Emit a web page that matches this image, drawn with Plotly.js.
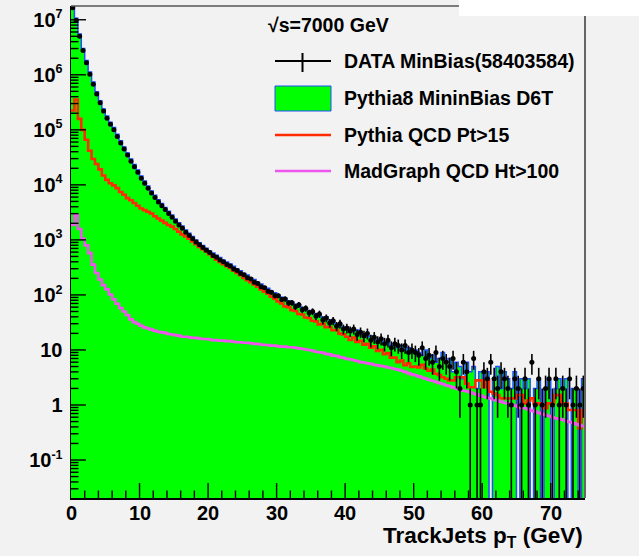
<!DOCTYPE html>
<html><head><meta charset="utf-8">
<script src="https://cdn.plot.ly/plotly-3.0.1.min.js"></script>
<style>
html,body{margin:0;padding:0;background:#f2f2f2;overflow:hidden;}
#chart{width:639px;height:556px;}
#wbox{position:absolute;left:459px;top:0;width:180px;height:16px;background:#ffffff;}
</style>
</head><body>
<div id="chart"></div><div id="wbox"></div>
<script>
// 150 bins of 0.5 GeV from 0 to 75 GeV
const binWidth = 0.5;
const nBins = 150;

const dataMinBias = [
 16600000, 9770000, 5010000, 2750000, 1660000, 1020000, 676000, 447000, 309000, 219000,
 162000, 126000, 100000, 75900, 57500, 44700, 34700, 26900, 21400, 17000,
 13200, 10700, 8710, 7080, 5890, 4900, 4170, 3550, 3020, 2570,
 2190, 1860, 1620, 1380, 1200, 1050, 912, 813, 724, 646,
 592, 521, 483, 432, 401, 358, 336, 297, 279, 246,
 233, 205, 194, 170, 161, 141, 135, 117, 112, 97,
 97, 83, 84, 71, 72, 61, 66, 54, 57, 47,
 50, 41, 45, 35, 38, 31, 34, 27, 30, 24,
 25, 22, 24, 19, 21, 18, 20, 15, 17, 14,
 16, 13, 15, 11, 13, 12, 10, 12, 9, 10,
 9, 8, 11, 7, 8, 6, 9, 5, 7, 6,
 5, 7, 4, 2, 6, 4, 1, 7, 1, 1,
 4, 3, 6, 3, 2, 4, 3, 2, 1, 3,
 2, 1, 3, 1, 6, 1, 3, 1, 2, 3,
 1, 3, 1, 2, 1, 3, 1, 2, 1, 2
];

const pythia8MinBiasD6T = [
 20000000, 10700000, 5500000, 3020000, 1820000, 1120000, 741000, 490000, 339000, 240000,
 178000, 138000, 110000, 83200, 63100, 49000, 38000, 29500, 23400, 18600,
 14500, 11700, 9550, 7760, 6460, 5370, 4570, 3890, 3310, 2820,
 2400, 2040, 1780, 1510, 1320, 1150, 1000, 891, 794, 708,
 631, 575, 525, 479, 427, 398, 363, 331, 295, 275,
 245, 229, 204, 191, 170, 158, 141, 132, 117, 110,
 100, 91, 87, 78, 74, 68, 66, 59, 57, 51,
 50, 45, 44, 39, 40, 35, 34, 30, 30, 26,
 26, 24, 22, 23, 20, 19.5, 17.4, 18, 16, 15,
 16, 13, 14, 12, 13, 11, 12, 10, 11, 9,
 10, 9, 8, 10, 7, 8, 6, 7, 9, 6,
 7, 4, 6, 5, 3, 6, 4, 5, 2, 4,
 3, 4, 0, 3, 5, 2, 4, 3, 2, 4,
 0, 3, 2, 3, 0, 2, 3, 0, 2, 3,
 0, 2, 3, 2, 3, 0, 2, 2, 0, 3
];

const pythiaQCDPt15 = [
 224000, 355000, 158000, 100000, 66000, 41700, 29500, 24000, 19100, 14800,
 12300, 10700, 9770, 8710, 7410, 6610, 5750, 5250, 4680, 4170,
 3720, 3470, 3240, 3020, 2690, 2450, 2240, 2040, 1860, 1740,
 1580, 1410, 1260, 1150, 1050, 933, 832, 741, 676, 617,
 550, 490, 437, 398, 363, 331, 309, 275, 251, 229,
 204, 186, 170, 155, 141, 126, 115, 105, 93, 85,
 76, 70, 62, 60, 53, 51, 45, 44, 39, 38,
 34, 33, 29, 30, 26, 26, 22.8, 23, 19.8, 19.2,
 17.4, 15.2, 16.8, 14.0, 14.6, 12.5, 12.9, 11.0, 11.6, 9.6,
 10.1, 8.4, 8.8, 7.2, 7.3, 6.0, 6.4, 5.3, 5.7, 4.9,
 5.0, 4.8, 5.4, 4.6, 4.2, 4.4, 3.7, 3.5, 3.2, 3.0,
 2.8, 2.8, 3.2, 3.2, 3.2, 2.45, 2.1, 2.1, 2.8, 2.8,
 2.1, 2.8, 1.74, 1.62, 1.51, 1.32, 1.32, 1.32, 1.32, 1.32,
 1.51, 1.51, 1.07, 1.2, 1.32, 1.07, 1.07, 1.0, 0.87, 1.07,
 1.07, 1.51, 1.51, 1.07, 1.07, 0.81, 0.81, 0.81, 0.38, 0.81
];

const madgraphQCDHt100 = [
 1860, 2820, 1580, 1050, 794, 575, 355, 251, 191, 151,
 126, 102, 83, 69, 58, 50, 43, 36, 32, 30,
 27.5, 25.7, 24.5, 23.4, 22.4, 21.4, 20.9, 20.4, 19.5, 19.1,
 18.6, 18.2, 17.4, 17.4, 17.0, 16.6, 16.6, 16.2, 15.8, 15.8,
 15.5, 15.1, 15.1, 14.8, 14.8, 14.5, 14.5, 14.1, 13.8, 13.8,
 13.5, 13.5, 13.2, 12.9, 12.9, 12.6, 12.3, 12.3, 12.0, 12.0,
 11.7, 11.5, 11.5, 11.2, 11.2, 11.0, 10.7, 10.5, 10.2, 10.0,
 9.8, 9.3, 9.1, 8.9, 8.5, 8.3, 7.9, 7.8, 7.4, 7.2,
 6.9, 6.8, 6.5, 6.3, 6.0, 5.9, 5.75, 5.6, 5.4, 5.25,
 5.1, 5.0, 4.8, 4.7, 4.5, 4.4, 4.2, 4.0, 3.8, 3.6,
 3.47, 3.31, 3.16, 3.02, 2.88, 2.75, 2.63, 2.51, 2.40, 2.29,
 2.19, 2.09, 2.0, 1.91, 1.82, 1.78, 1.70, 1.62, 1.55, 1.48,
 1.41, 1.35, 1.32, 1.26, 1.20, 1.15, 1.10, 1.07, 1.02, 0.98,
 0.93, 0.89, 0.87, 0.83, 0.79, 0.76, 0.72, 0.69, 0.66, 0.63,
 0.60, 0.575, 0.56, 0.54, 0.51, 0.49, 0.47, 0.45, 0.43, 0.41
];

const xTickVals = [0, 10, 20, 30, 40, 50, 60, 70];
const xTickText = ["0", "10", "20", "30", "40", "50", "60", "70"];
const yTickVals = [0.1, 1, 10, 100, 1000, 10000, 100000, 1000000, 10000000];
const yTickExp = ["-1", "", "", "2", "3", "4", "5", "6", "7"];
const yTickBase = ["10", "1", "10", "10", "10", "10", "10", "10", "10"];

const legendLabels = ["DATA MinBias(58403584)", "Pythia8 MininBias D6T", "Pythia QCD Pt>15", "MadGraph QCD Ht>100"];
const energyLabel = "\u221As=7000 GeV";
const xTitle = "TrackJets p<sub>T</sub> (GeV)";

// ---- geometry ----
const W = 639, H = 556, mL = 71, mR = 54, mT = 6, mB = 58;
const pw = W - mL - mR, ph = H - mT - mB;
const px = x => (x - mL) / pw;
const py = y => (H - mB - y) / ph;
const xRange = [0, 75], yRange = [-1.69, 7.25];

// ---- build traces ----
const edges = [], centers = [];
for (let i = 0; i <= nBins; i++) edges.push(i * binWidth);
for (let i = 0; i < nBins; i++) centers.push((i + 0.5) * binWidth);
const TINY = 1e-6; // empty bin -> drops below axis
function stepY(vals) {
  const y = vals.map(v => v > 0 ? v : TINY);
  y.push(y[y.length - 1]);
  return y;
}

const GREEN = '#00ff00', BLUE = '#1f4fff', RED = '#ff2a00', MAG = '#ee55ee';

const dx = [], dy = [], de = [];
dataMinBias.forEach((v, i) => { if (v > 0) { dx.push(centers[i]); dy.push(v); de.push(Math.sqrt(v)); } });

// inside tick marks (ROOT style), drawn as a line trace on top of the fill
const tx = [], ty = [];
const yBot = Math.pow(10, yRange[0]);
const yLen = len => Math.pow(10, yRange[0] + len / ph * (yRange[1] - yRange[0]));
const xLen = len => len / pw * (xRange[1] - xRange[0]);
for (let v = 2; v < xRange[1]; v += 2) {
  const major = v % 10 === 0;
  tx.push(v, v, null); ty.push(yBot, yLen(major ? 15 : 7.5), null);
}
for (let d = -2; d <= 7; d++) {
  for (let m = 1; m <= 9; m++) {
    const lv = Math.log10(m) + d;
    if (lv <= yRange[0] || lv >= yRange[1]) continue;
    const v = m * Math.pow(10, d);
    tx.push(0, xLen(m === 1 ? 15 : 7.5), null); ty.push(v, v, null);
  }
}

const traces = [
  { x: edges, y: stepY(pythia8MinBiasD6T), type: 'scatter', mode: 'lines',
    line: { shape: 'hv', color: BLUE, width: 1.5 }, fill: 'tozeroy', fillcolor: GREEN,
    name: legendLabels[1], showlegend: false },
  { x: edges, y: stepY(pythiaQCDPt15), type: 'scatter', mode: 'lines',
    line: { shape: 'hv', color: RED, width: 2.6 }, name: legendLabels[2], showlegend: false },
  { x: edges, y: stepY(madgraphQCDHt100), type: 'scatter', mode: 'lines',
    line: { shape: 'hv', color: MAG, width: 2.6 }, name: legendLabels[3], showlegend: false },
  { x: dx, y: dy, type: 'scatter', mode: 'markers',
    marker: { symbol: 'circle', size: 5, color: '#000' },
    error_y: { type: 'data', array: de, visible: true, color: '#000', thickness: 1.6, width: 0 },
    error_x: { type: 'constant', value: binWidth / 2, visible: true, color: '#000', thickness: 1.6, width: 0 },
    name: legendLabels[0], showlegend: false },
  { x: tx, y: ty, type: 'scatter', mode: 'lines', connectgaps: false,
    line: { color: '#000', width: 1.4 }, hoverinfo: 'skip', showlegend: false, cliponaxis: false }
];

// ---- layout ----
const FONT = 'Liberation Sans, Arial, Helvetica, sans-serif';
const legFont = { family: FONT, size: 19.5, color: '#000', weight: 'bold' };
const tickFont = { family: FONT, size: 20, color: '#000', weight: 'bold' };

const shapes = [
  // top and right frame
  { type: 'line', xref: 'paper', yref: 'paper', x0: 0, x1: 1, y0: 1, y1: 1, line: { color: '#555', width: 1.5 } },
  { type: 'line', xref: 'paper', yref: 'paper', x0: 1, x1: 1, y0: 0, y1: 1, line: { color: '#666', width: 2 } },
  // legend glyphs
  { type: 'line', xref: 'paper', yref: 'paper', x0: px(275), x1: px(331), y0: py(61), y1: py(61), line: { color: '#000', width: 2 } },
  { type: 'line', xref: 'paper', yref: 'paper', x0: px(302.5), x1: px(302.5), y0: py(53), y1: py(72), line: { color: '#000', width: 2 } },
  { type: 'rect', xref: 'paper', yref: 'paper', x0: px(275), x1: px(331), y0: py(111), y1: py(86), fillcolor: GREEN, line: { color: BLUE, width: 1 } },
  { type: 'line', xref: 'paper', yref: 'paper', x0: px(275), x1: px(331), y0: py(135), y1: py(135), line: { color: RED, width: 2.6 } },
  { type: 'line', xref: 'paper', yref: 'paper', x0: px(275), x1: px(331), y0: py(171), y1: py(171), line: { color: MAG, width: 2.6 } }
];

const annotations = [
  { text: energyLabel, xref: 'paper', yref: 'paper', x: px(266), y: py(25), xanchor: 'left', yanchor: 'middle', showarrow: false, font: legFont },
  { text: legendLabels[0], xref: 'paper', yref: 'paper', x: px(342), y: py(61), xanchor: 'left', yanchor: 'middle', showarrow: false, font: legFont },
  { text: legendLabels[1], xref: 'paper', yref: 'paper', x: px(342), y: py(98), xanchor: 'left', yanchor: 'middle', showarrow: false, font: legFont },
  { text: legendLabels[2], xref: 'paper', yref: 'paper', x: px(342), y: py(135), xanchor: 'left', yanchor: 'middle', showarrow: false, font: legFont },
  { text: legendLabels[3], xref: 'paper', yref: 'paper', x: px(342), y: py(171), xanchor: 'left', yanchor: 'middle', showarrow: false, font: legFont },
  { text: xTitle, xref: 'paper', yref: 'paper', x: px(585), y: py(537), xanchor: 'right', yanchor: 'middle', showarrow: false,
    font: { family: FONT, size: 22.5, color: '#000', weight: 'bold' } }
];
// x tick labels placed just under the axis (ROOT spacing)
xTickVals.forEach((v, i) => annotations.push({
  text: xTickText[i], xref: 'x', yref: 'paper', x: v, y: py(512), xanchor: 'center', yanchor: 'middle',
  height: 17, valign: 'middle', showarrow: false, font: tickFont
}));

const yTickText = yTickBase.map((b, i) => yTickExp[i] ? b + '<sup><span style="font-size:12.5px">' + yTickExp[i] + '</span></sup>' : b);

const layout = {
  width: W, height: H,
  margin: { l: mL, r: mR, t: mT, b: mB, pad: 0 },
  paper_bgcolor: '#f2f2f2', plot_bgcolor: '#f2f2f2',
  showlegend: false,
  xaxis: {
    range: xRange, showticklabels: false,
    ticks: '', showgrid: false, zeroline: false,
    showline: true, linecolor: '#000', linewidth: 1.5
  },
  yaxis: {
    type: 'log', range: yRange, tickmode: 'array', tickvals: yTickVals, ticktext: yTickText,
    ticks: '', showgrid: false, zeroline: false,
    showline: true, linecolor: '#000', linewidth: 1.5,
    tickfont: tickFont, ticklabelstandoff: 3
  },
  shapes: shapes,
  annotations: annotations
};

Plotly.newPlot('chart', traces, layout, { staticPlot: true, displayModeBar: false });
</script>
</body></html>
